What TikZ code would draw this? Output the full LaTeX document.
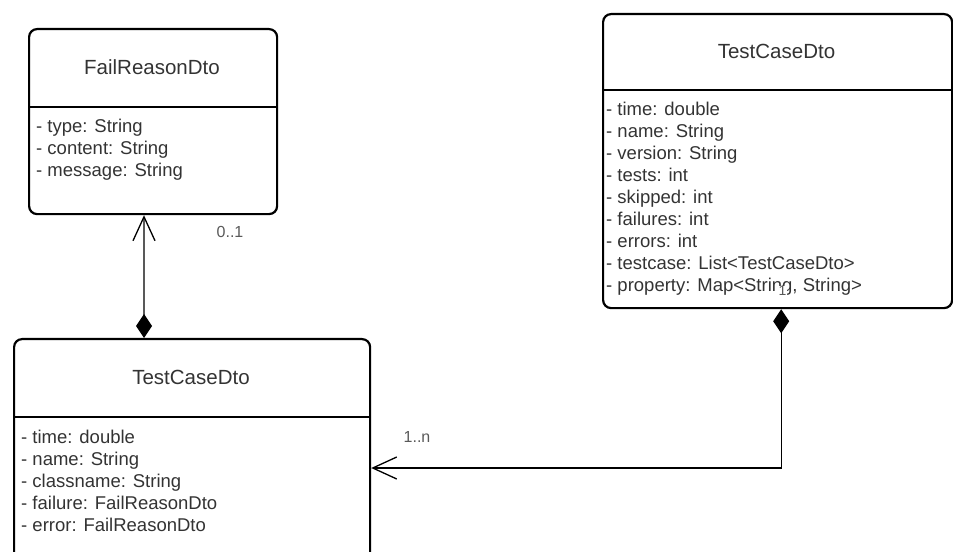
\documentclass[tikz,border=0pt]{standalone}
\usepackage{fontspec}
\setmainfont{Liberation Sans}
\usetikzlibrary{arrows.meta}
\definecolor{txtgray}{HTML}{333333}
\definecolor{lblgray}{HTML}{595959}
\tikzset{
	classbox/.style={draw, line width=2.2bp, rounded corners=8bp, anchor=north west, inner sep=0pt},
	classname/.style={font=\fontsize{20.5bp}{24bp}\selectfont, text=txtgray},
	attr/.style={anchor=base west, inner sep=0pt, font=\fontsize{18.5bp}{22bp}\selectfont, text=txtgray},
	mult/.style={font=\fontsize{16bp}{19bp}\selectfont, text=lblgray, inner sep=1bp},
	compose/.style={line width=1.3bp, {Diamond[length=24bp,width=16bp]}-{Straight Barb[length=24bp,width=22bp]}}
}
\begin{document}
\begin{tikzpicture}[x=1bp,y=-1bp]
			\useasboundingbox (0,0) rectangle (953,552);
			\clip (0,0) rectangle (953,552);
			
			\node[classbox, minimum width=248bp, minimum height=185bp] (frd) at (28,28) {};
			\draw[line width=2.2bp] (frd.west |- 0,107) -- (frd.east |- 0,107);
			\node[classname] (frdname) at (152,67) {FailReasonDto};
			\foreach \a [count=\i] in {{- type: String}, {- content: String}, {- message: String}}
				\node[attr] (frdattr\i) at (36,{133+22*(\i-1)}) {\a};
			
			\node[classbox, minimum width=349bp, minimum height=294bp] (tcr) at (602,13) {};
			\draw[line width=2.2bp] (tcr.west |- 0,90) -- (tcr.east |- 0,90);
			\node[classname] (tcrname) at (776.5,51.5) {TestCaseDto};
			\foreach \a [count=\i] in {{- time: double}, {- name: String}, {- version: String}, {- tests: int}, {- skipped: int}, {- failures: int}, {- errors: int}, {- testcase: List<TestCaseDto>}, {- property: Map<String, String>}}
				\node[attr] (tcrattr\i) at (606,{116+22*(\i-1)}) {\a};
			
			\node[classbox, minimum width=356bp, minimum height=260bp] (tcb) at (13,338) {};
			\draw[line width=2.2bp] (tcb.west |- 0,417) -- (tcb.east |- 0,417);
			\node[classname] (tcbname) at (191,377.5) {TestCaseDto};
			\foreach \a [count=\i] in {{- time: double}, {- name: String}, {- classname: String}, {- failure: FailReasonDto}, {- error: FailReasonDto}}
				\node[attr] (tcbattr\i) at (21,{443+22*(\i-1)}) {\a};
			
			\draw[compose] ([xshift=131bp]tcb.north west) -- ([xshift=116bp]frd.south west);
			\draw[compose] ([xshift=-172bp]tcr.south east) |- ([yshift=-130bp]tcb.north east);
			
			\node[mult] (m01) at (230,232) {0..1};
			\node[mult] (m1n) at (417,437) {1..n};
			\node[mult, fill=white, font=\fontsize{14bp}{16bp}\selectfont, inner sep=0.5bp] (m1) at (782.5,291) {1};
		\end{tikzpicture}
\end{document}
